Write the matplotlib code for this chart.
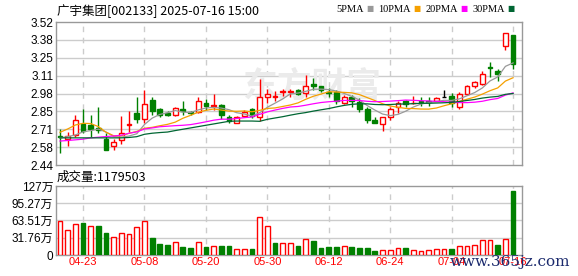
import numpy as np
import pandas as pd
import matplotlib
matplotlib.use("Agg")
import matplotlib.pyplot as plt

plt.rcParams['font.family'] = ['Liberation Sans', 'Noto Sans CJK SC']

# daily K line, 60 trading days (2025-04-18 .. 2025-07-16)
open_ = [2.66, 2.64, 2.67, 2.75, 2.74, 2.72, 2.64, 2.58, 2.63, 2.745,
         2.83, 2.79, 2.93, 2.86, 2.83, 2.82, 2.86, 2.84, 2.84, 2.91,
         2.885, 2.89, 2.80, 2.755, 2.81, 2.86, 2.805, 2.95, 2.955, 2.99,
         2.995, 3.005, 2.985, 3.055, 3.035, 2.99, 2.99, 2.905, 2.955, 2.915,
         2.86, 2.78, 2.75, 2.805, 2.88, 2.92, 2.908, 2.925, 2.925, 2.925,
         2.951, 2.96, 2.88, 2.98, 3.04, 3.055, 3.18, 3.15, 3.34, 3.42]
high = [2.71, 2.69, 2.82, 2.86, 2.82, 2.88, 2.68, 2.64, 2.81, 2.85,
        2.95, 3.01, 2.95, 2.87, 2.845, 2.875, 2.925, 2.85, 2.95, 2.94,
        2.975, 2.90, 2.82, 2.81, 2.855, 2.873, 3.09, 3.015, 3.00, 3.015,
        3.015, 3.015, 3.12, 3.095, 3.04, 3.02, 3.005, 2.97, 2.97, 2.944,
        2.88, 2.805, 2.805, 2.88, 2.925, 2.93, 2.96, 2.95, 2.95, 2.95,
        3.005, 2.985, 2.99, 3.044, 3.075, 3.15, 3.215, 3.165, 3.435, 3.42]
low = [2.53, 2.58, 2.65, 2.68, 2.65, 2.68, 2.55, 2.55, 2.60, 2.69,
       2.76, 2.76, 2.82, 2.80, 2.81, 2.81, 2.815, 2.82, 2.83, 2.855,
       2.855, 2.79, 2.755, 2.755, 2.80, 2.793, 2.775, 2.905, 2.926, 2.96,
       2.95, 2.965, 2.955, 3.005, 2.995, 2.95, 2.90, 2.90, 2.88, 2.838,
       2.755, 2.755, 2.70, 2.78, 2.835, 2.875, 2.90, 2.886, 2.885, 2.92,
       2.951, 2.88, 2.86, 2.969, 3.02, 3.045, 3.105, 3.075, 3.31, 3.165]
close = [2.65, 2.66, 2.78, 2.70, 2.71, 2.705, 2.55, 2.61, 2.68, 2.75,
         2.79, 2.90, 2.85, 2.82, 2.815, 2.87, 2.845, 2.83, 2.92, 2.888,
         2.892, 2.82, 2.77, 2.805, 2.84, 2.81, 2.95, 2.975, 2.96, 3.00,
         3.002, 2.98, 3.04, 3.038, 3.005, 2.985, 2.925, 2.95, 2.925, 2.865,
         2.78, 2.755, 2.80, 2.865, 2.91, 2.90, 2.912, 2.915, 2.918, 2.948,
         2.951, 2.905, 2.975, 3.035, 3.07, 3.125, 3.17, 3.125, 3.435, 3.20]
# volume in 万
volume = [62.0, 46.0, 57.1, 58.9, 53.4, 53.4, 40.5, 32.5, 40.5, 38.0,
          50.9, 62.0, 31.3, 20.2, 18.4, 23.9, 14.7, 12.9, 23.9, 14.7,
          16.6, 16.6, 16.6, 10.4, 10.4, 11.0, 69.9, 53.4, 22.1, 22.1,
          21.5, 16.6, 29.4, 25.8, 13.5, 14.7, 14.7, 16.0, 14.7, 13.5,
          13.5, 7.4, 8.6, 8.6, 12.9, 13.5, 8.6, 7.4, 8.6, 11.0,
          11.0, 11.0, 16.6, 16.6, 18.4, 28.2, 28.2, 18.4, 30.1, 117.95]

# MA values before the window has enough days
ma5_head = [2.645, 2.654, 2.667, 2.69]
ma10_head = [2.687, 2.712, 2.742, 2.755, 2.753, 2.73, 2.687, 2.661, 2.661]
ma20_head = [2.621, 2.625, 2.63, 2.635, 2.645, 2.65, 2.655, 2.659, 2.665, 2.68,
             2.69, 2.712, 2.72, 2.729, 2.733, 2.737, 2.74, 2.745, 2.755]
ma30_head = [2.645, 2.645, 2.645, 2.645, 2.645, 2.645, 2.645, 2.645, 2.645, 2.648,
             2.654, 2.672, 2.68, 2.685, 2.689, 2.70, 2.71, 2.72, 2.73, 2.74,
             2.75, 2.76, 2.77, 2.772, 2.772, 2.772, 2.77, 2.785, 2.795]

date_ticks = [3, 11, 19, 27, 35, 43, 51, 59]
date_labels = ['04-23', '05-08', '05-20', '05-30', '06-12', '06-24', '07-04', '07-16']
price_ticks = ['2.44', '2.58', '2.71', '2.85', '2.98', '3.11', '3.25', '3.38', '3.52']
vol_ticks = [0, 31.76, 63.51, 95.27, 127]
vol_labels = ['0', '31.76万', '63.51万', '95.27万', '127万']
ma_names = ['5PMA', '10PMA', '20PMA', '30PMA']

RED = '#ff0000'
GREEN = '#008000'
GRID = '#cccccc'
FRAME = '#999999'

o = np.array(open_); h = np.array(high); l = np.array(low); c = np.array(close)
x = np.arange(len(c))

s = pd.Series(c)
mas = []
for n, head in [(5, ma5_head), (10, ma10_head), (20, ma20_head), (30, ma30_head)]:
    m = s.rolling(n).mean().to_numpy()
    m[:len(head)] = head
    mas.append(m)

fig = plt.figure(figsize=(5.78, 2.76), dpi=100)
ax = fig.add_axes([56/578, 1-165/276, 466/578, 143/276])
axv = fig.add_axes([56/578, 1-255/276, 466/578, 69/276])

for a in (ax, axv):
    a.set_xlim(-0.52, 60.16)
    for sp in a.spines.values():
        sp.set_color(FRAME)
        sp.set_linewidth(1)
    a.tick_params(length=0, pad=2, labelsize=8.5)
    for t in date_ticks:
        a.axvline(t, color=GRID, lw=1, ls=(0, (4, 4)), zorder=0)
    a.set_xticks([])

# price panel
yt = np.linspace(2.44, 3.52, 9)
ax.set_ylim(2.44, 3.52)
ax.set_yticks(yt)
ax.set_yticklabels(price_ticks)
for v in yt[1:-1]:
    ax.axhline(v, color=GRID, lw=1, zorder=0)

up = c > o
dn = c < o
flat = c == o
wick_col = np.where(up, RED, np.where(dn, GREEN, 'black'))
ax.vlines(x, l, h, colors=wick_col, lw=1, zorder=2)
body_h = np.maximum(np.abs(c - o), 0.001)
body_b = np.minimum(o, c)
ax.bar(x[up], body_h[up], bottom=body_b[up], width=0.62, facecolor='white',
       edgecolor=RED, lw=1, zorder=3)
ax.bar(x[dn], body_h[dn], bottom=body_b[dn], width=0.62, facecolor=GREEN,
       edgecolor=GREEN, lw=1, zorder=3)
ax.hlines(c[flat], x[flat] - 0.32, x[flat] + 0.32, colors='black', lw=1, zorder=3)

ma_cols = ['#999999', '#f5a000', '#ff00ff', '#006633']
for m, col in zip(mas, ma_cols):
    ax.plot(x, m, color=col, lw=0.9, zorder=4)

# watermark
ax.text(0.55, 0.55, '东方财富', transform=ax.transAxes, fontsize=25, color='#ebebeb',
        ha='center', va='center', family=['Noto Sans CJK SC'], fontweight='bold', zorder=1)

# volume panel
vol = np.array(volume)
vol_up = np.r_[True, np.diff(c) > 0]  # first bar is red on the chart
axv.set_ylim(0, 127)
axv.set_yticks(vol_ticks)
axv.set_yticklabels(vol_labels)
for v in vol_ticks[1:-1]:
    axv.axhline(v, color=GRID, lw=1, zorder=0)
axv.bar(x[vol_up], vol[vol_up], width=0.62, facecolor='white', edgecolor=RED, lw=1, zorder=3)
axv.bar(x[~vol_up], vol[~vol_up], width=0.62, facecolor=GREEN, edgecolor=GREEN, lw=1, zorder=3)
for t, lab in zip(date_ticks, date_labels):
    axv.text(t, -4, lab, color=RED, fontsize=8, ha='center', va='top',
             transform=axv.transData, clip_on=False)

# header texts
fig.text(57/578, 1-11/276, '广宇集团[002133] 2025-07-16 15:00', fontsize=9,
         va='center', ha='left', family=['Noto Sans CJK SC'])
# legend: text right-aligned before each colour square
sq_x = [366, 413, 460, 507]
for lab, col, px in zip(ma_names, ma_cols, sq_x):
    fig.text((px - 2)/578, 1-9/276, lab, fontsize=7.5, va='center', ha='right',
             family=['Liberation Serif'])
    fig.text(px/578, 1-9/276, '■', color=col, fontsize=5.5,
             va='center', ha='left', family=['DejaVu Sans'])
fig.text(57/578, 1-177/276, '成交量:1179503', fontsize=9, va='center', ha='left',
         family=['Noto Sans CJK SC'])
fig.text(570/578, 1-262/276, 'www.365jz.com', fontsize=11, color='#1c2b6e',
         va='center', ha='right', family=['DejaVu Serif'])

fig.savefig('out.png', dpi=100)
